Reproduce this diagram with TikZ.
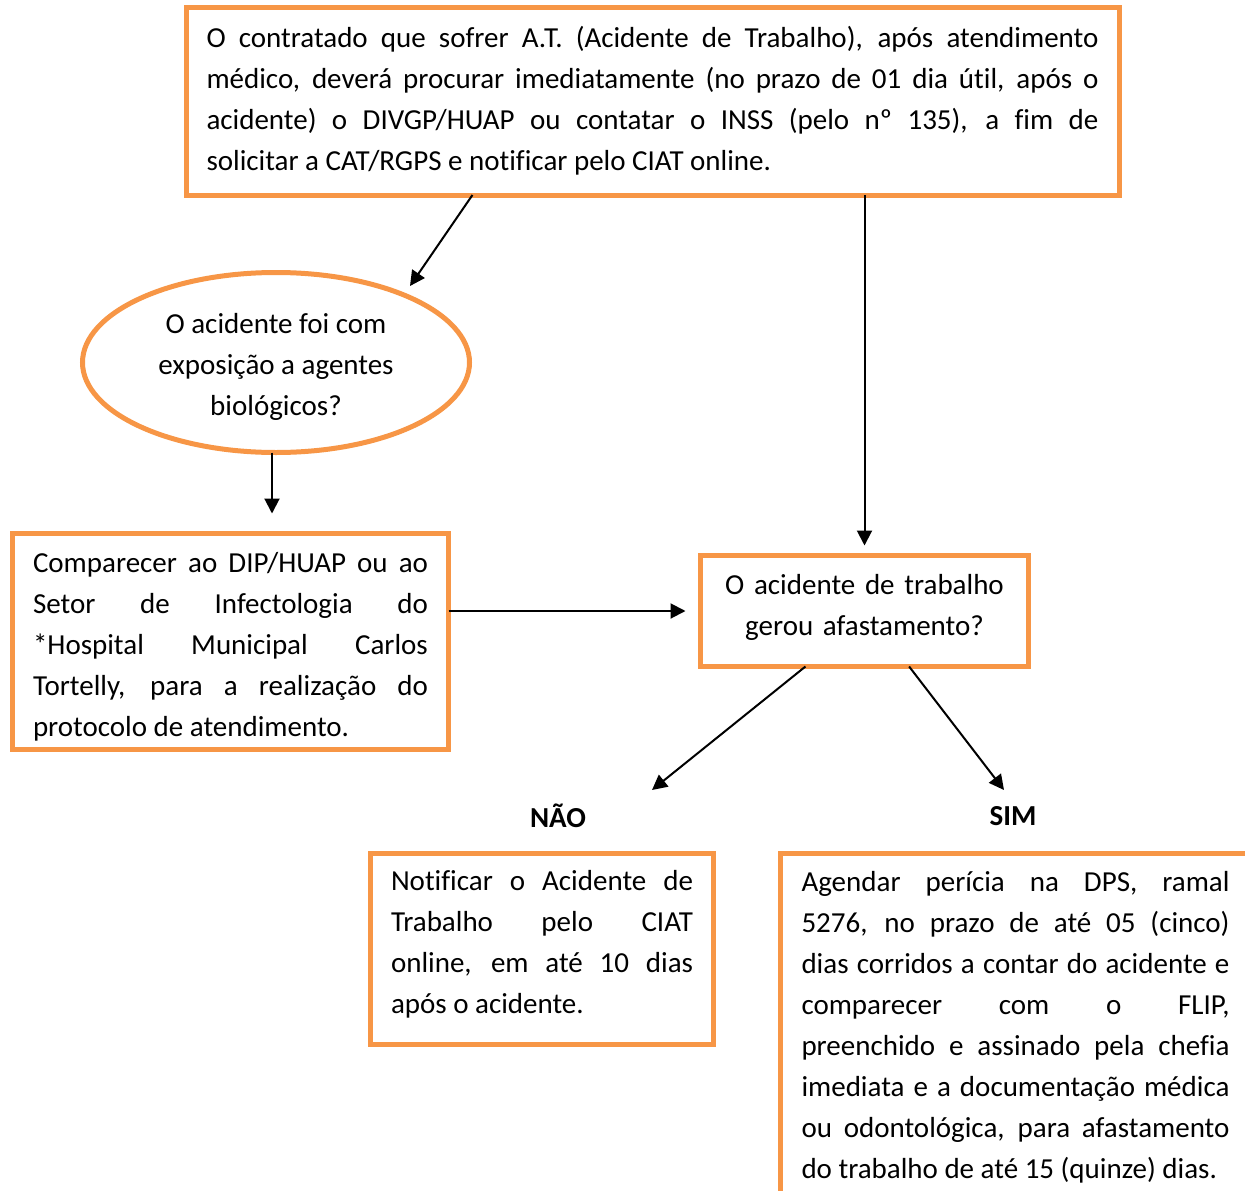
\documentclass[tikz,border=0pt]{standalone}
\usepackage{fontspec}
\setmainfont{Carlito}[Ligatures=NoCommon]
\usetikzlibrary{calc}
\usetikzlibrary{arrows.meta}
\usetikzlibrary{shapes.geometric}
\definecolor{laranja}{RGB}{247,150,70}
\tolerance=10000
\hyphenpenalty=10000

\begin{document}
\begin{tikzpicture}[x=1pt, y=-1pt,
    caixa/.style={draw=laranja, line width=5pt, outer sep=0pt, inner xsep=20pt, inner ysep=0pt,
      font=\fontsize{29}{41}\selectfont, align=justify},
    seta/.style={line width=2pt, -{Triangle[length=15pt, width=15pt]}},
    rotulo/.style={font=\fontsize{29}{35}\selectfont\bfseries}]
    \useasboundingbox (0,0) rectangle (1245,1191);
    \clip (0,0) rectangle (1245,1191);
    \node[caixa, text width=892pt, inner xsep=20.5pt, minimum height=188pt] (inicio) at (652.5,101) {O contratado que sofrer A.T. (Acidente de Trabalho), após atendimento\linebreak médico, deverá procurar imediatamente (no prazo de 01 dia útil, após o\linebreak acidente) o DIVGP/HUAP ou contatar o INSS (pelo nº 135), a fim de\linebreak solicitar a CAT/RGPS e notificar pelo CIAT online.};
    \node[draw=laranja, line width=5pt, outer sep=0pt, ellipse, minimum width=387pt, minimum height=180pt, inner sep=0pt,
      align=center, font=\fontsize{29}{41}\selectfont] (biologico) at (276,362.5) {\rule{0pt}{28pt}O acidente foi com\\exposição a agentes\\biológicos?};
    \node[caixa, text width=395pt, inner xsep=20.5pt, minimum height=216pt] (protocolo) at (230.5,641.5) {\rule{0pt}{31pt}Comparecer ao DIP/HUAP ou ao\linebreak Setor de Infectologia do\linebreak *Hospital Municipal Carlos\linebreak Tortelly, para a realização do\linebreak protocolo de atendimento.};
    \node[caixa, align=center, text width=288pt, minimum height=111pt] (afastamento) at (864.5,611) {O acidente de trabalho\\gerou afastamento?\rule[-13pt]{0pt}{0pt}};
    \node[rotulo] (nao) at (558,816) {NÃO};
    \node[rotulo] (sim) at (1013,816) {SIM};
    \node[caixa, text width=302pt, inner xsep=20.5pt, minimum height=191pt] (notificar) at (542,949) {Notificar o Acidente de\linebreak Trabalho pelo CIAT\linebreak online, em até 10 dias\linebreak após o acidente.\rule[-15pt]{0pt}{0pt}};
    \node[caixa, text width=428pt, inner xsep=21pt, inner ysep=18pt, anchor=north west] (pericia) at (780.5,853.5) {Agendar perícia na DPS, ramal\linebreak 5276, no prazo de até 05 (cinco)\linebreak dias corridos a contar do acidente e\linebreak comparecer com o FLIP,\linebreak preenchido e assinado pela chefia\linebreak imediata e a documentação médica\linebreak ou odontológica, para afastamento\linebreak do trabalho de até 15 (quinze) dias.};
    \coordinate (pontaBio) at (410,286);
    \coordinate (pontaNao) at (652,790);
    \coordinate (pontaSim) at (1004,790);
    \draw[seta] ($(inicio.south west)!0.307!(inicio.south east)$) -- (pontaBio);
    \draw[seta, shorten >=10pt] (inicio.south -| afastamento.north) -- (afastamento.north);
    \draw[seta, shorten >=20pt] ($(biologico.south)+(-4,0)$) -- ($(biologico.south |- protocolo.north)+(-4,0)$);
    \draw[seta, shorten >=15pt] (protocolo.east |- afastamento.west) -- (afastamento.west);
    \draw[seta] ($(afastamento.south west)!0.32!(afastamento.south east)$) -- (pontaNao);
    \draw[seta] ($(afastamento.south west)!0.636!(afastamento.south east)$) -- (pontaSim);
\end{tikzpicture}
\end{document}
